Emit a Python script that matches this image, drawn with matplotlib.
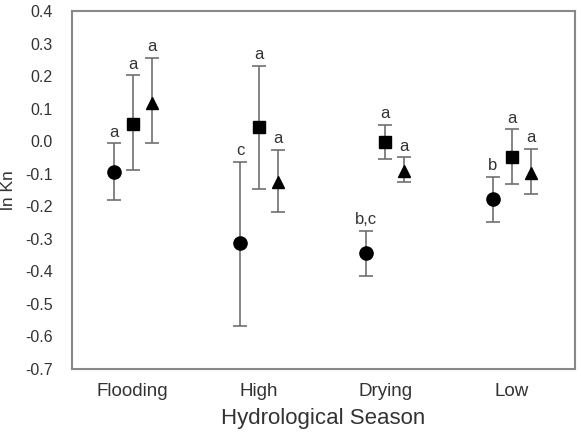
import numpy as np
import matplotlib
matplotlib.use("Agg")
import matplotlib.pyplot as plt

plt.rcParams['font.family'] = ['Liberation Sans', 'DejaVu Sans']

# data
seasons = ['Flooding', 'High', 'Drying', 'Low']

circle_mean = [-0.094, -0.314, -0.344, -0.177]
circle_lo = [-0.180, -0.569, -0.415, -0.248]
circle_hi = [-0.007, -0.065, -0.276, -0.109]
circle_lab = ['a', 'c', 'b,c', 'b']

square_mean = [0.054, 0.043, -0.004, -0.048]
square_lo = [-0.090, -0.148, -0.054, -0.131]
square_hi = [0.202, 0.231, 0.051, 0.036]
square_lab = ['a', 'a', 'a', 'a']

tri_mean = [0.116, -0.126, -0.091, -0.097]
tri_lo = [-0.005, -0.218, -0.125, -0.162]
tri_hi = [0.255, -0.028, -0.050, -0.023]
tri_lab = ['a', 'a', 'a', 'a']

yticks = [-0.7, -0.6, -0.5, -0.4, -0.3, -0.2, -0.1, 0.0, 0.1, 0.2, 0.3, 0.4]
ytick_labels = ['-0.7', '-0.6', '-0.5', '-0.4', '-0.3', '-0.2', '-0.1',
                '0.0', '0.1', '0.2', '0.3', '0.4']

fig = plt.figure(figsize=(5.81, 4.32), dpi=100)
ax = fig.add_axes([72/581, 1 - 369/432, (575-72)/581, (369-11)/432])

x = np.arange(len(seasons))
off = 0.15
groups = [
    (x - off, circle_mean, circle_lo, circle_hi, circle_lab, 'o', 9.5),
    (x, square_mean, square_lo, square_hi, square_lab, 's', 8.5),
    (x + off, tri_mean, tri_lo, tri_hi, tri_lab, '^', 9),
]
for xs, m, lo, hi, lab, mk, ms in groups:
    m = np.array(m)
    err = [m - np.array(lo), np.array(hi) - m]
    ax.errorbar(xs, m, yerr=err, fmt='none', ecolor='#707070', elinewidth=1.2,
                capsize=5, capthick=1.2, zorder=1)
    ax.plot(xs, m, linestyle='none', marker=mk, color='black', markersize=ms, zorder=2)
    for xi, h, t in zip(xs, hi, lab):
        ax.text(xi, h + 0.012, t, ha='center', va='bottom', fontsize=12, color='#333333')

ax.set_xlim(-0.48, 3.5)
ax.set_ylim(-0.7, 0.4)
ax.set_yticks(yticks)
ax.set_yticklabels(ytick_labels)
ax.set_xticks(x)
ax.set_xticklabels(seasons)
ax.tick_params(length=0, labelcolor='#333333')
ax.tick_params(axis='x', labelsize=13.5, pad=10)
ax.tick_params(axis='y', labelsize=11.5, pad=14)
for s in ax.spines.values():
    s.set_color('#888888')
    s.set_linewidth(1.5)

ax.set_xlabel('Hydrological Season', fontsize=16, color='#333333', labelpad=6)
ax.set_ylabel('ln Kn', fontsize=12.5, color='#333333', labelpad=6)

plt.savefig('out.png', dpi=100)
